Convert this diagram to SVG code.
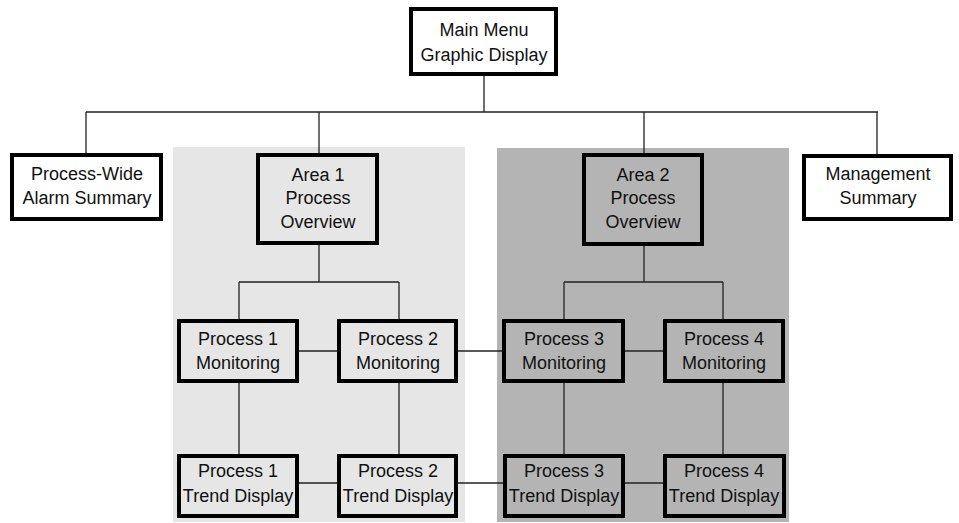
<svg xmlns="http://www.w3.org/2000/svg" width="959" height="523" viewBox="0 0 959 523">
<style>
.box{stroke:#000;stroke-width:4}
.w{fill:#fff}
.l{fill:#e6e6e6}
.d{fill:#b4b4b4}
text{font-family:"Liberation Sans",Arial,sans-serif;font-size:18px;fill:#111;text-anchor:middle}
.c{stroke:#222;stroke-width:1.3;fill:none}
</style>
<rect x="0" y="0" width="959" height="523" fill="#fff"/>
<rect id="panel1" x="173" y="147" width="292" height="375" fill="#e6e6e6"/>
<rect id="panel2" x="497" y="148" width="292" height="374" fill="#b4b4b4"/>
<g id="connectors">
<path class="c" d="M484 76V112M86 112H878M86 112V153M319 112V153M644 112V153M877 112V154"/>
<path class="c" d="M319 245V282M239 282H399M239 282V319M399 282V319"/>
<path class="c" d="M644 246V282M564 282H723M564 282V319M723 282V319"/>
<path class="c" d="M299 351H337M458 351H502M625 351H663"/>
<path class="c" d="M239 383V454M399 383V454M564 383V454M723 383V454"/>
<path class="c" d="M299 483H337M458 483H503M625 483H663"/>
</g>
<g id="main"><rect class="box w" x="411" y="9" width="145" height="65"/><text x="484" y="36">Main Menu</text><text x="484" y="61">Graphic Display</text></g>
<g id="alarm"><rect class="box w" x="12" y="155" width="149" height="64"/><text x="87" y="180">Process-Wide</text><text x="87" y="204">Alarm Summary</text></g>
<g id="area1"><rect class="box l" x="258" y="155" width="119" height="88"/><text x="318" y="181">Area 1</text><text x="318" y="204">Process</text><text x="318" y="228">Overview</text></g>
<g id="area2"><rect class="box d" x="584" y="155" width="118" height="89"/><text x="643" y="181">Area 2</text><text x="643" y="204">Process</text><text x="643" y="228">Overview</text></g>
<g id="mgmt"><rect class="box w" x="804" y="156" width="147" height="63"/><text x="878" y="180">Management</text><text x="878" y="204">Summary</text></g>
<g id="p1m"><rect class="box l" x="179" y="321" width="118" height="60"/><text x="238" y="345">Process 1</text><text x="238" y="369">Monitoring</text></g>
<g id="p2m"><rect class="box l" x="339" y="321" width="117" height="60"/><text x="398" y="345">Process 2</text><text x="398" y="369">Monitoring</text></g>
<g id="p3m"><rect class="box d" x="504" y="321" width="119" height="60"/><text x="564" y="345">Process 3</text><text x="564" y="369">Monitoring</text></g>
<g id="p4m"><rect class="box d" x="665" y="321" width="118" height="60"/><text x="724" y="345">Process 4</text><text x="724" y="369">Monitoring</text></g>
<g id="p1t"><rect class="box l" x="179" y="456" width="118" height="60"/><text x="238" y="477">Process 1</text><text x="238" y="502">Trend Display</text></g>
<g id="p2t"><rect class="box l" x="339" y="456" width="117" height="60"/><text x="398" y="477">Process 2</text><text x="398" y="502">Trend Display</text></g>
<g id="p3t"><rect class="box d" x="505" y="456" width="118" height="60"/><text x="564" y="477">Process 3</text><text x="564" y="502">Trend Display</text></g>
<g id="p4t"><rect class="box d" x="665" y="456" width="119" height="60"/><text x="724" y="477">Process 4</text><text x="724" y="502">Trend Display</text></g>
</svg>
